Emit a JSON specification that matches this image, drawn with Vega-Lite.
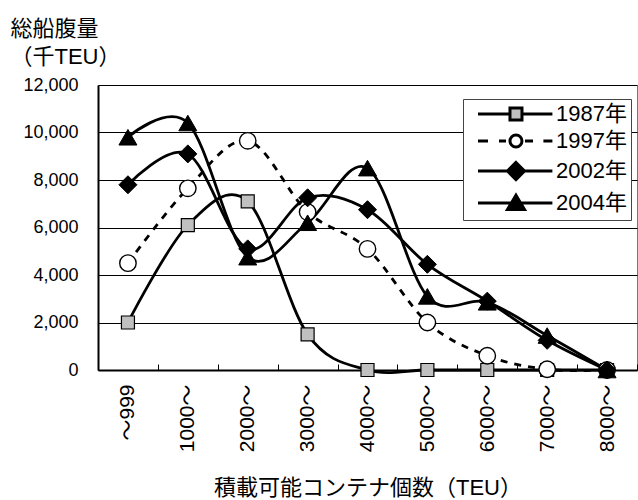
{
  "$schema": "https://vega.github.io/schema/vega-lite/v6.json",
  "width": 539,
  "height": 285,
  "autosize": "none",
  "padding": {"left": 98, "top": 85, "right": 1, "bottom": 130},
  "background": "white",
  "config": {
    "font": "Liberation Sans, Noto Sans CJK JP",
    "view": {"stroke": "#777", "strokeWidth": 1}
  },
  "data": {
    "values": [
      {"cat": "～999", "series": "1987年", "value": 2000},
      {"cat": "1000～", "series": "1987年", "value": 6100},
      {"cat": "2000～", "series": "1987年", "value": 7100},
      {"cat": "3000～", "series": "1987年", "value": 1500},
      {"cat": "4000～", "series": "1987年", "value": 0},
      {"cat": "5000～", "series": "1987年", "value": 0},
      {"cat": "6000～", "series": "1987年", "value": 0},
      {"cat": "7000～", "series": "1987年", "value": 0},
      {"cat": "8000～", "series": "1987年", "value": 0},
      {"cat": "～999", "series": "1997年", "value": 4500},
      {"cat": "1000～", "series": "1997年", "value": 7650},
      {"cat": "2000～", "series": "1997年", "value": 9650},
      {"cat": "3000～", "series": "1997年", "value": 6650},
      {"cat": "4000～", "series": "1997年", "value": 5100},
      {"cat": "5000～", "series": "1997年", "value": 2000},
      {"cat": "6000～", "series": "1997年", "value": 600},
      {"cat": "7000～", "series": "1997年", "value": 30},
      {"cat": "8000～", "series": "1997年", "value": 0},
      {"cat": "～999", "series": "2002年", "value": 7800},
      {"cat": "1000～", "series": "2002年", "value": 9100},
      {"cat": "2000～", "series": "2002年", "value": 5100},
      {"cat": "3000～", "series": "2002年", "value": 7250},
      {"cat": "4000～", "series": "2002年", "value": 6750},
      {"cat": "5000～", "series": "2002年", "value": 4450},
      {"cat": "6000～", "series": "2002年", "value": 2900},
      {"cat": "7000～", "series": "2002年", "value": 1250},
      {"cat": "8000～", "series": "2002年", "value": 0},
      {"cat": "～999", "series": "2004年", "value": 9800},
      {"cat": "1000～", "series": "2004年", "value": 10400},
      {"cat": "2000～", "series": "2004年", "value": 4750},
      {"cat": "3000～", "series": "2004年", "value": 6200},
      {"cat": "4000～", "series": "2004年", "value": 8500},
      {"cat": "5000～", "series": "2004年", "value": 3100},
      {"cat": "6000～", "series": "2004年", "value": 2850},
      {"cat": "7000～", "series": "2004年", "value": 1450},
      {"cat": "8000～", "series": "2004年", "value": 0}
    ]
  },
  "encoding": {
    "x": {
      "field": "cat",
      "type": "ordinal",
      "sort": null,
      "scale": {"type": "band", "paddingInner": 0, "paddingOuter": 0},
      "axis": {
        "title": "積載可能コンテナ個数（TEU）",
        "titleFontSize": 22,
        "titleFontWeight": "normal",
        "titleColor": "black",
        "titleBaseline": "alphabetic",
        "titleY": 124.5,
        "labelAngle": -90,
        "labelFontSize": 21,
        "labelColor": "black",
        "labelPadding": 20,
        "tickBand": "extent",
        "tickSize": -6,
        "tickColor": "black",
        "tickWidth": 1,
        "domainColor": "black",
        "domainWidth": 2,
        "grid": false
      }
    },
    "y": {
      "field": "value",
      "type": "quantitative",
      "scale": {"domain": [0, 12000], "nice": false},
      "axis": {
        "title": ["総船腹量", "（千TEU）"],
        "titleAngle": 0,
        "titleAlign": "left",
        "titleBaseline": "alphabetic",
        "titleX": -88,
        "titleY": -50,
        "titleFontSize": 22,
        "titleFontWeight": "normal",
        "titleLineHeight": 28,
        "titleColor": "black",
        "values": [0, 2000, 4000, 6000, 8000, 10000, 12000],
        "format": ",d",
        "labelFontSize": 18,
        "labelColor": "black",
        "labelPadding": 20,
        "ticks": false,
        "grid": true,
        "gridColor": "black",
        "gridWidth": 1,
        "domainColor": "black",
        "domainWidth": 2
      }
    }
  },
  "layer": [
    {
      "transform": [{"filter": "datum.series !== '1997年'"}],
      "mark": {"type": "line", "interpolate": "cardinal", "color": "black", "strokeWidth": 2.8},
      "encoding": {"detail": {"field": "series"}}
    },
    {
      "transform": [{"filter": "datum.series === '1997年'"}],
      "mark": {"type": "line", "interpolate": "cardinal", "color": "black", "strokeWidth": 2.8, "strokeDash": [7, 7]},
      "encoding": {"detail": {"field": "series"}}
    },
    {
      "transform": [{"filter": "datum.series === '1987年'"}],
      "mark": {"type": "point", "shape": "square", "filled": true, "fill": "#c0c0c0", "stroke": "black", "strokeWidth": 1.2, "size": 169, "opacity": 1},
      "encoding": {}
    },
    {
      "transform": [{"filter": "datum.series === '1997年'"}],
      "mark": {"type": "point", "shape": "circle", "filled": true, "fill": "white", "stroke": "black", "strokeWidth": 1.4, "size": 270, "opacity": 1},
      "encoding": {}
    },
    {
      "transform": [{"filter": "datum.series === '2002年'"}],
      "mark": {"type": "point", "shape": "diamond", "filled": true, "fill": "black", "stroke": "black", "strokeWidth": 1, "size": 324, "opacity": 1},
      "encoding": {}
    },
    {
      "transform": [{"filter": "datum.series === '2004年'"}],
      "mark": {"type": "point", "shape": "triangle-up", "filled": true, "fill": "black", "stroke": "black", "strokeWidth": 1, "size": 324, "opacity": 1},
      "encoding": {}
    },
    {
      "transform": [{"filter": "false"}],
      "mark": {"type": "point", "filled": true, "strokeWidth": 3, "opacity": 1},
      "encoding": {
        "shape": {
          "field": "series",
          "type": "nominal",
          "scale": {
            "domain": ["1987年", "1997年", "2002年", "2004年"],
            "range": [
              "M0,0H5.33M7.33,0H12.4M5.33,-1H7.33V1H5.33Z",
              "M0,0H1.67M3.5,0H4.67M7.83,0H9.17M10.9,0H12.4M7.33,0C7.33,0.5523 6.8823,1 6.33,1C5.7777,1 5.33,0.5523 5.33,0C5.33,-0.5523 5.7777,-1 6.33,-1C6.8823,-1 7.33,-0.5523 7.33,0Z",
              "M0,0H12.4M6.33,-1.42L7.75,0L6.33,1.42L4.91,0Z",
              "M0,0H12.4M6.33,-1.3L7.75,1.1L4.91,1.1Z"
            ]
          },
          "legend": {
            "title": null,
            "orient": "none",
            "legendX": 365,
            "legendY": 14,
            "strokeColor": "#444",
            "fillColor": "white",
            "padding": 4,
            "labelFontSize": 22,
            "labelColor": "black",
            "labelOffset": 67,
            "rowPadding": 3,
            "symbolSize": 144,
            "symbolStrokeWidth": 3
          }
        },
        "fill": {
          "field": "series",
          "type": "nominal",
          "scale": {"domain": ["1987年", "1997年", "2002年", "2004年"], "range": ["#c0c0c0", "white", "black", "black"]}
        },
        "stroke": {
          "field": "series",
          "type": "nominal",
          "scale": {"domain": ["1987年", "1997年", "2002年", "2004年"], "range": ["black", "black", "black", "black"]}
        }
      }
    }
  ]
}
